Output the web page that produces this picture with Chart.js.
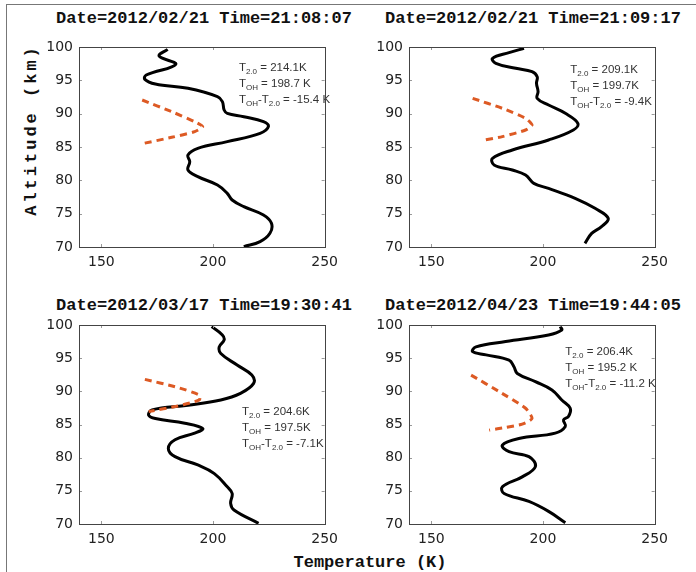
<!DOCTYPE html>
<html>
<head>
<meta charset="utf-8">
<script src="https://cdn.jsdelivr.net/npm/chart.js@4.4.1/dist/chart.umd.min.js"></script>
<style>
  body { margin:0; background:#fff; }
  #page { position:relative; width:696px; height:572px; overflow:hidden; background:#fff; }
  .frame { position:absolute; left:6px; top:4px; width:760px; height:640px; border:1px solid #777; }
  .box { position:absolute; }
  .ttl { position:absolute; font:bold 17px 'Liberation Mono', monospace; color:#111; white-space:nowrap; transform:translate(-50%,-50%); }
  .ylab { position:absolute; font:bold 17px 'Liberation Mono', monospace; letter-spacing:3px; color:#111; white-space:nowrap; transform:translate(-50%,-50%) rotate(-90deg); }
</style>
</head>
<body>
<div id="page">
  <div class="frame"></div>
  <div class="ttl" style="left:204px;top:18px">Date=2012/02/21 Time=21:08:07</div>
  <div class="ttl" style="left:533px;top:18px">Date=2012/02/21 Time=21:09:17</div>
  <div class="ttl" style="left:204px;top:305px">Date=2012/03/17 Time=19:30:41</div>
  <div class="ttl" style="left:533px;top:305px">Date=2012/04/23 Time=19:44:05</div>
  <div class="ylab" style="left:31px;top:130px">Altitude (km)</div>
  <div class="ttl" style="left:370px;top:562px">Temperature (K)</div>
  <div class="box" style="left:30px;top:30px"><canvas id="c1" width="315" height="255"></canvas></div>
  <div class="box" style="left:360px;top:30px"><canvas id="c2" width="315" height="255"></canvas></div>
  <div class="box" style="left:30px;top:308px"><canvas id="c3" width="315" height="254"></canvas></div>
  <div class="box" style="left:360px;top:308px"><canvas id="c4" width="315" height="254"></canvas></div>
</div>
<script>
// lidar temperature profiles (altitude km / temperature K)
var alt1  = [99.65, 98.65, 97.4, 95.8, 95.15, 94.45, 93.8, 92.55, 91.8, 90.55, 90.05, 89.55, 88.8, 88.05, 87.05, 85.8, 84.8, 83.8, 82.8, 81.55, 80.55, 79.3, 78.05, 77.05, 76.05, 74.8, 73.55, 72.05, 70.8, 70.05];
var temp1 = [179.7, 175.9, 183.3, 170.1, 169.5, 174.2, 188.8, 202.0, 204.2, 205.0, 206.4, 213.8, 222.6, 224.8, 221.1, 206.4, 193.2, 188.8, 189.6, 188.8, 193.2, 202.0, 206.4, 208.6, 213.8, 222.6, 226.2, 225.5, 221.1, 213.8];

var alt2  = [99.8, 99.15, 98.3, 97.55, 96.8, 96.3, 95.55, 94.55, 93.3, 92.3, 91.3, 90.05, 88.55, 87.55, 86.05, 84.55, 83.3, 82.3, 81.55, 80.8, 79.55, 78.8, 77.3, 75.8, 74.3, 73.05, 72.05, 70.55];
var temp2 = [191.5, 184.8, 177.4, 178.9, 187.8, 195.1, 197.4, 197.1, 197.8, 197.4, 202.5, 210.0, 215.6, 213.6, 202.5, 186.3, 177.4, 178.1, 186.3, 192.2, 195.9, 202.5, 214.4, 223.3, 229.2, 226.2, 221.8, 218.8];

var alt3  = [99.75, 98.5, 97.75, 96.7, 95.7, 93.97, 92.45, 91.2, 89.7, 88.7, 87.9, 87.2, 86.4, 85.9, 85.2, 84.4, 83.7, 82.7, 81.4, 80.15, 78.9, 77.6, 75.6, 74.6, 73.1, 72.1, 70.1];
var temp3 = [199.4, 204.2, 205.0, 202.8, 203.5, 210.8, 217.4, 218.2, 212.3, 203.5, 188.8, 172.7, 171.2, 174.2, 187.4, 195.4, 191.8, 183.0, 180.0, 183.0, 193.2, 200.6, 206.4, 208.6, 207.9, 209.4, 220.4];

var alt4  = [99.75, 99.25, 98.5, 97.5, 96.7, 95.98, 95.5, 94.7, 93.7, 92.7, 91.45, 90.2, 88.7, 87.45, 86.2, 85.7, 84.7, 83.7, 82.9, 81.9, 80.9, 80.15, 78.65, 77.1, 75.6, 74.6, 73.4, 71.9, 70.2];
var temp4 = [207.7, 208.4, 202.5, 183.3, 170.0, 168.5, 174.5, 184.8, 187.0, 188.5, 196.6, 204.0, 208.4, 212.2, 211.4, 209.2, 210.0, 205.5, 189.2, 181.8, 184.8, 193.7, 196.6, 190.7, 181.8, 182.6, 193.7, 202.5, 210.0];

// OH layer shape (dashed)
var ohAlt1  = [92.05, 90.3, 88.8, 88.05, 87.3, 86.45, 85.55];
var ohTemp1 = [168.3, 181.5, 191.8, 195.4, 191.8, 181.5, 169.0];
var ohAlt2  = [92.3, 90.8, 89.3, 88.3, 87.55, 86.55, 86.05];
var ohTemp2 = [168.5, 181.8, 192.2, 195.1, 192.2, 181.8, 173.7];
var ohAlt3  = [91.8, 90.7, 89.45, 88.7, 87.8, 86.95];
var ohTemp3 = [169.5, 183.0, 193.9, 193.9, 184.4, 171.2];
var ohAlt4  = [92.45, 89.95, 87.45, 85.9, 85.05, 84.55, 84.15];
var ohTemp4 = [167.8, 180.4, 192.2, 195.1, 190.7, 183.3, 175.9];

var xTicks = [150, 200, 250];
var yTicks = [70, 75, 80, 85, 90, 95, 100];

// T2.0, TOH, TOH-T2.0 labels
var t20  = ['214.1K', '209.1K', '204.6K', '206.4K'];
var tOH  = ['198.7 K', '199.7K', '197.5K', '195.2 K'];
var tDif = ['-15.4 K', '-9.4K', '-7.1K', '-11.2 K'];

function pts(xs, ys) {
  return xs.map(function (v, i) { return { x: v, y: ys[i] }; });
}

var boxPlugin = {
  id: 'box',
  afterDraw: function (chart) {
    var ctx = chart.ctx, a = chart.chartArea;
    ctx.save();
    ctx.strokeStyle = '#999';
    ctx.lineWidth = 1;
    chart.scales.x.ticks.forEach(function (t) {
      var px = Math.round(chart.scales.x.getPixelForValue(t.value)) + 0.5;
      ctx.beginPath();
      ctx.moveTo(px, a.bottom); ctx.lineTo(px, a.bottom - 3);
      ctx.moveTo(px, a.top); ctx.lineTo(px, a.top + 3);
      ctx.stroke();
    });
    chart.scales.y.ticks.forEach(function (t) {
      var py = Math.round(chart.scales.y.getPixelForValue(t.value)) + 0.5;
      ctx.beginPath();
      ctx.moveTo(a.left, py); ctx.lineTo(a.left + 3, py);
      ctx.moveTo(a.right, py); ctx.lineTo(a.right - 3, py);
      ctx.stroke();
    });
    ctx.strokeStyle = '#444';
    ctx.strokeRect(Math.round(a.left) + 0.5, Math.round(a.top) + 0.5, Math.round(a.right - a.left), Math.round(a.bottom - a.top));
    ctx.restore();
  }
};

function notePlugin(i, nx, ny) {
  var lines = [
    [['T', 0], ['2.0', 1], [' = ' + t20[i], 0]],
    [['T', 0], ['OH', 1], [' = ' + tOH[i], 0]],
    [['T', 0], ['OH', 1], ['-T', 0], ['2.0', 1], [' = ' + tDif[i], 0]]
  ];
  return {
    id: 'note' + i,
    afterDatasetsDraw: function (chart) {
      var ctx = chart.ctx;
      var x0 = chart.scales.x.getPixelForValue(nx);
      var y0 = chart.scales.y.getPixelForValue(ny);
      ctx.save();
      ctx.fillStyle = '#333';
      ctx.textBaseline = 'middle';
      lines.forEach(function (line, k) {
        var x = x0, y = y0 + k * 16;
        line.forEach(function (seg) {
          ctx.font = seg[1] ? '8px "Liberation Sans"' : '11.5px "Liberation Sans"';
          ctx.fillText(seg[0], x, seg[1] ? y + 4 : y);
          x += ctx.measureText(seg[0]).width;
        });
      });
      ctx.restore();
    }
  };
}

function drawPanel(id, i, temps, alts, ohT, ohA, note) {
  var tickFont = { family: 'DejaVu Sans', size: 14 };
  new Chart(document.getElementById(id).getContext('2d'), {
    type: 'scatter',
    data: {
      datasets: [
        { data: pts(ohT, ohA), showLine: true, borderColor: '#DD5A24', borderWidth: 3, borderDash: [7, 5], pointRadius: 0, tension: 0.2 },
        { data: pts(temps, alts), showLine: true, borderColor: '#000', borderWidth: 3, pointRadius: 0, tension: 0.4 }
      ]
    },
    options: {
      responsive: false,
      animation: false,
      layout: { padding: { top: 17, right: 16, left: 0, bottom: 0 } },
      plugins: { legend: { display: false }, tooltip: { enabled: false } },
      scales: {
        x: {
          type: 'linear', min: 140, max: 250,
          afterBuildTicks: function (s) { s.ticks = xTicks.map(function (v) { return { value: v }; }); },
          afterFit: function (s) { s.height = 38; },
          grid: { display: false, drawTicks: false },
          border: { display: false },
          ticks: { padding: 7, color: '#222', font: tickFont }
        },
        y: {
          type: 'linear', min: 70, max: 100,
          afterBuildTicks: function (s) { s.ticks = yTicks.map(function (v) { return { value: v }; }); },
          afterFit: function (s) { s.width = 49; },
          grid: { display: false, drawTicks: false },
          border: { display: false },
          ticks: { padding: 6, color: '#222', font: tickFont }
        }
      }
    },
    plugins: [boxPlugin, notePlugin(i, note[0], note[1])]
  });
}

drawPanel('c1', 0, temp1, alt1, ohTemp1, ohAlt1, [211.6, 96.85]);
drawPanel('c2', 1, temp2, alt2, ohTemp2, ohAlt2, [212.2, 96.55]);
drawPanel('c3', 2, temp3, alt3, ohTemp3, ohAlt3, [213.0, 86.9]);
drawPanel('c4', 3, temp4, alt4, ohTemp4, ohAlt4, [210.0, 96.0]);
</script>
</body>
</html>
